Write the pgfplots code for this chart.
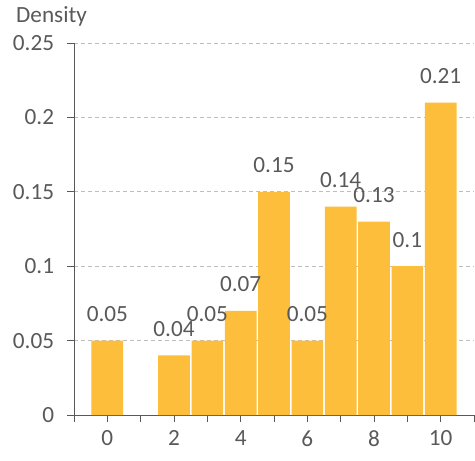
\documentclass[border=0pt]{standalone}
\usepackage{pgfplots}
\pgfplotsset{compat=1.18}
\usepackage{fontspec}
\setmainfont{Carlito}
\definecolor{barc}{RGB}{253,190,59}
\definecolor{txt}{RGB}{89,89,89}
\definecolor{gridc}{RGB}{190,190,190}
\begin{document}
\fontsize{23.2}{28}\selectfont
\begin{tikzpicture}
\begin{axis}[
  scale only axis,
  width=400pt, height=372pt,
  xmin=-1, xmax=11, ymin=0, ymax=0.25,
  axis x line=bottom, axis y line=left,
  axis line style={-, color=txt, line width=0.9pt},
  tick style={color=txt, line width=0.9pt},
  tick align=outside,
  major tick length=7pt,
  minor tick length=7pt,
  xtick={0,2,...,10},
  xticklabels={0,2,4,6,8,10},
  minor xtick={-1,1,...,11},
  ytick={0,0.05,0.1,0.15,0.2,0.25},
  yticklabels={0,0.05,0.1,0.15,0.2,0.25},
  ymajorgrids,
  grid style={gridc, dash pattern=on 4pt off 3pt, line width=0.8pt},
  ticklabel style={font=\fontsize{23.2}{28}\selectfont, text=txt},
  yticklabel style={xshift=-5pt},
  xticklabel style={yshift=-1pt},
  clip=false,
]
\addplot[ybar, bar width=0.95, fill=barc, draw=none,
  nodes near coords={\pgfmathprintnumber[fixed,precision=2,assume math mode=true]{\pgfplotspointmeta}},
  nodes near coords style={anchor=base, yshift=19pt, text=txt, font=\fontsize{23.2}{28}\selectfont},
] coordinates {
 (0,0.05) (2,0.04) (3,0.05) (4,0.07) (5,0.15) (6,0.05) (7,0.14) (8,0.13) (9,0.10) (10,0.21)
};
\node[anchor=base west, text=txt, font=\fontsize{23.2}{28}\selectfont, inner sep=0pt] at (rel axis cs:0,1) [xshift=-58pt, yshift=20pt] {Density};
\coordinate (sw) at (rel axis cs:0,0);
\coordinate (ne) at (rel axis cs:1,1);
\end{axis}
\pgfresetboundingbox
\path[use as bounding box] ([xshift=-74pt,yshift=-45pt]sw) rectangle ([xshift=1pt,yshift=43pt]ne);
\end{tikzpicture}
\end{document}
